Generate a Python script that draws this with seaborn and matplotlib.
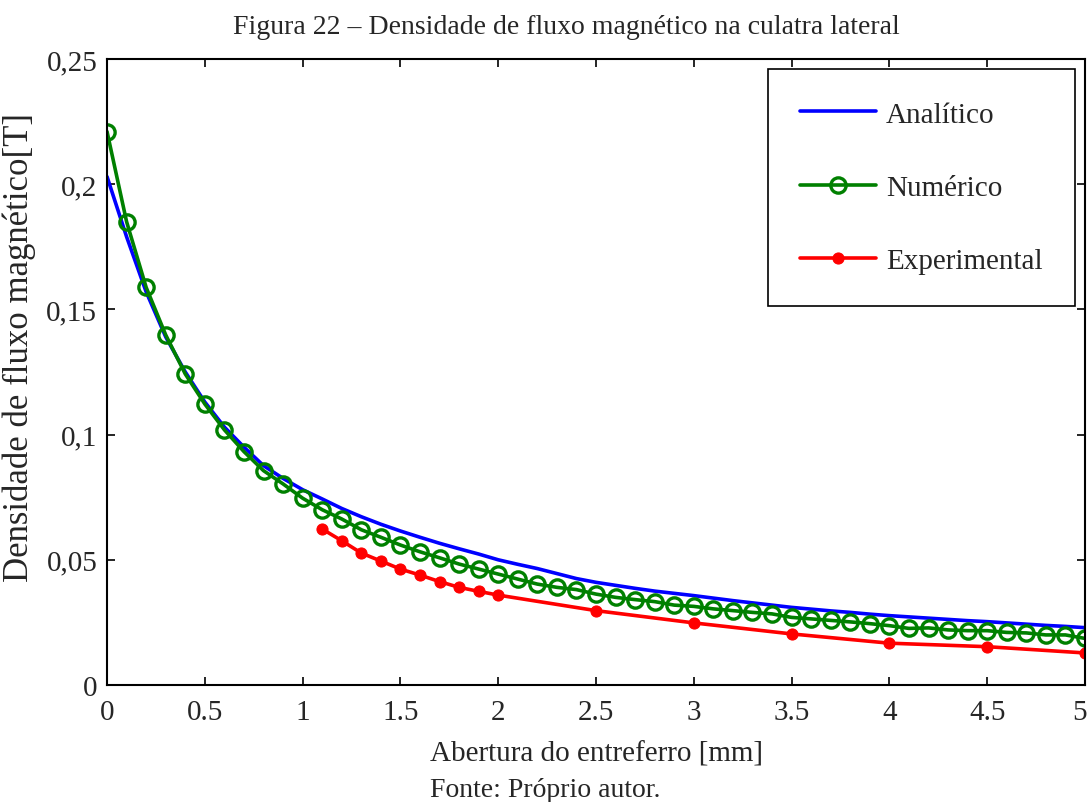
import numpy as np
import pandas as pd
import matplotlib
matplotlib.use("Agg")
import matplotlib.pyplot as plt
import matplotlib.transforms as mtransforms
import seaborn as sns

# ---- data ----
x_num = [round(0.1 * i, 1) for i in range(51)]
y_analitico = [0.203, 0.179, 0.157, 0.139, 0.125, 0.113, 0.103, 0.095, 0.0876, 0.0825,
               0.078, 0.0743, 0.0705, 0.0672, 0.0642, 0.0615, 0.059, 0.0566, 0.0544, 0.0523,
               0.0500, 0.0482, 0.0465, 0.0445, 0.0425, 0.041, 0.0398, 0.0386, 0.0375, 0.0366,
               0.0357, 0.0347, 0.0337, 0.0328, 0.0319, 0.031, 0.0303, 0.0296, 0.029, 0.0283,
               0.0277, 0.0272, 0.0267, 0.0262, 0.0257, 0.0253, 0.0248, 0.0243, 0.0238, 0.0234,
               0.0229]
y_numerico = [0.221, 0.185, 0.1588, 0.1398, 0.1242, 0.1122, 0.1019, 0.0932, 0.0856, 0.0803,
              0.0746, 0.070, 0.0663, 0.062, 0.059, 0.0559, 0.0532, 0.0508, 0.0483, 0.0463,
              0.0443, 0.0423, 0.0403, 0.039, 0.0381, 0.0363, 0.035, 0.0341, 0.0333, 0.0319,
              0.0314, 0.0304, 0.0297, 0.029, 0.0284, 0.027, 0.0264, 0.0258, 0.0252, 0.0245,
              0.0237, 0.0226, 0.0228, 0.022, 0.0217, 0.0217, 0.021, 0.0208, 0.020, 0.020,
              0.0186]
x_exp = [1.1, 1.2, 1.3, 1.4, 1.5, 1.6, 1.7, 1.8, 1.9, 2.0, 2.5, 3.0, 3.5, 4.0, 4.5, 5.0]
y_exp = [0.0623, 0.0576, 0.0527, 0.0495, 0.0463, 0.0439, 0.0413, 0.039, 0.0374, 0.0359,
         0.0297, 0.0248, 0.0204, 0.0167, 0.0153, 0.0128]

x_ticks = [0, 0.5, 1, 1.5, 2, 2.5, 3, 3.5, 4, 4.5, 5]
x_ticklabels = ["0", "0.5", "1", "1.5", "2", "2.5", "3", "3.5", "4", "4.5", "5"]
y_ticks = [0, 0.05, 0.1, 0.15, 0.2, 0.25]
y_ticklabels = ["0", "0,05", "0,1", "0,15", "0,2", "0,25"]

title = "Figura 22 \u2013 Densidade de fluxo magnético na culatra lateral"
xlabel = "Abertura do entreferro [mm]"
ylabel = "Densidade de fluxo magnético[T]"
fonte = "Fonte: Próprio autor."

df_a = pd.DataFrame({"x": x_num, "y": y_analitico})
df_n = pd.DataFrame({"x": x_num, "y": y_numerico})
df_e = pd.DataFrame({"x": x_exp, "y": y_exp})

# ---- plot ----
sns.set_theme(style="white")
plt.rcParams["font.family"] = ["Liberation Serif", "DejaVu Serif"]

fig = plt.figure(figsize=(10.9, 8.03), dpi=100)
ax = fig.add_axes([0.0982, 0.1457, 0.8972, 0.7796])

sns.lineplot(data=df_a, x="x", y="y", ax=ax, color="#0000FF", linewidth=2.6,
             label="Analítico", estimator=None)
sns.lineplot(data=df_n, x="x", y="y", ax=ax, color="#008000", linewidth=2.6,
             marker="o", markersize=11, markerfacecolor="none",
             markeredgecolor="#008000", markeredgewidth=2.4,
             label="Numérico", estimator=None)
sns.lineplot(data=df_e, x="x", y="y", ax=ax, color="#FF0000", linewidth=2.6,
             marker="o", markersize=8, markerfacecolor="#FF0000",
             markeredgecolor="#FF0000", label="Experimental", estimator=None)

ax.set_xlim(0, 5)
ax.set_ylim(0, 0.25)
ax.set_xticks(x_ticks)
ax.set_xticklabels(x_ticklabels, fontsize=21)
ax.set_yticks(y_ticks)
ax.set_yticklabels(y_ticklabels, fontsize=21)
ax.tick_params(direction="in", length=6, width=1.2, top=True, right=True,
               bottom=True, left=True, color="black")
ax.tick_params(axis="x", pad=10)
ax.tick_params(axis="y", pad=7)
for s in ax.spines.values():
    s.set_visible(True)
    s.set_color("black")
    s.set_linewidth(1.5)

# nudge last x tick label so it stays inside the figure
last = ax.get_xticklabels()[-1]
last.set_transform(last.get_transform() +
                   mtransforms.ScaledTranslation(-5 / 100, 0, fig.dpi_scale_trans))

ax.set_xlabel(xlabel, fontsize=21)
ax.xaxis.set_label_coords(0.5, -0.088)
ax.set_ylabel(ylabel, fontsize=25)
ax.yaxis.set_label_coords(-0.073, 0.54)

leg = ax.legend(loc="upper right", bbox_to_anchor=(1.0, 1.0), fontsize=21,
                frameon=True, fancybox=False, framealpha=1, edgecolor="black",
                handlelength=2.6, handletextpad=0.35, labelspacing=1.6,
                borderpad=1.1, borderaxespad=0.35)
leg.get_frame().set_linewidth(1.2)

fig.text(0.52, 0.966, title, ha="center", va="center", fontsize=20)
fig.text(0.5, 0.016, fonte, ha="center", va="center", fontsize=20)

fig.savefig("out.png", dpi=100)
